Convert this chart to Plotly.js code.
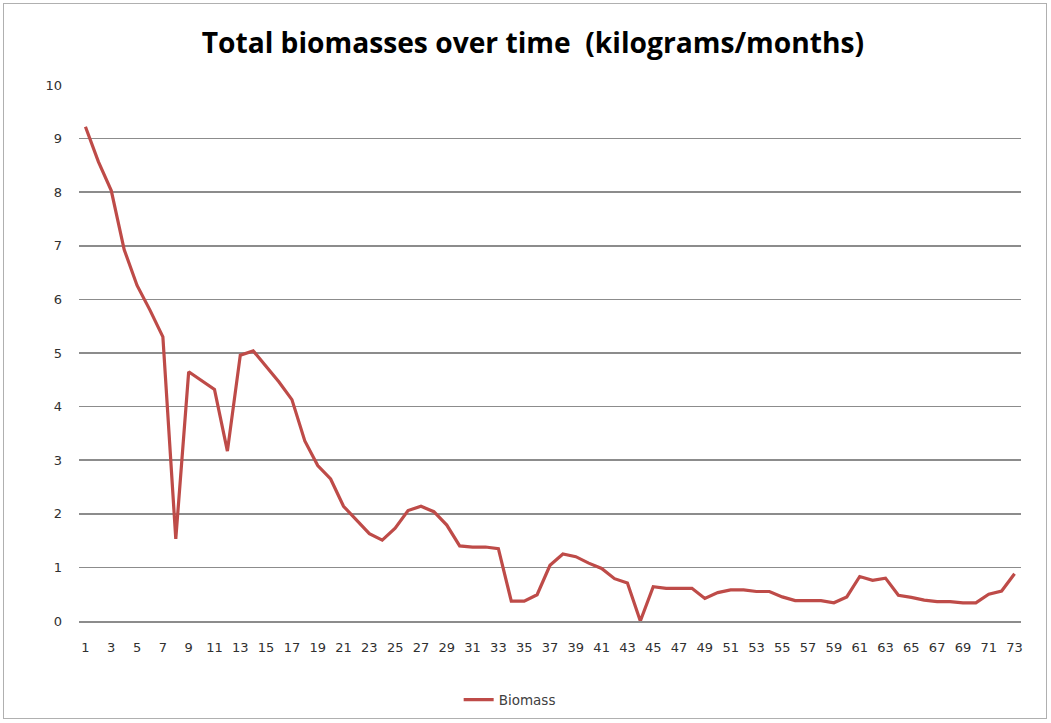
<!DOCTYPE html>
<html>
<head>
<meta charset="utf-8">
<script src="https://cdn.plot.ly/plotly-3.0.1.min.js"></script>
<style>
html,body{margin:0;padding:0;background:#fff;}
#frame{position:absolute;left:3px;top:3px;width:1044px;height:716px;border:1px solid #b0b0b0;box-sizing:border-box;}
#chart{position:absolute;left:0;top:0;width:1051px;height:723px;}
</style>
</head>
<body>
<div id="frame"></div>
<div id="chart"></div>
<script>
const months = Array.from({length: 73}, (_, i) => i + 1);
const biomass = [
  9.22, 8.57, 8.03, 6.93, 6.26, 5.80, 5.30, 1.53, 4.65, 4.49,
  4.32, 3.17, 4.96, 5.04, 4.76, 4.46, 4.13, 3.36, 2.90, 2.65,
  2.14, 1.88, 1.63, 1.51, 1.73, 2.06, 2.14, 2.04, 1.79, 1.40,
  1.38, 1.38, 1.35, 0.37, 0.37, 0.49, 1.04, 1.25, 1.20, 1.08,
  0.98, 0.79, 0.71, 0.00, 0.64, 0.61, 0.61, 0.61, 0.42, 0.53,
  0.58, 0.58, 0.55, 0.55, 0.45, 0.38, 0.38, 0.38, 0.34, 0.45,
  0.83, 0.76, 0.80, 0.48, 0.44, 0.39, 0.36, 0.36, 0.34, 0.34,
  0.50, 0.56, 0.88
];
const xTickVals = months.filter(m => m % 2 === 1);
const xTickText = xTickVals.map(String);
const yTickVals = [0,1,2,3,4,5,6,7,8,9,10];

const trace = {
  x: months, y: biomass, type: 'scatter', mode: 'lines', name: 'Biomass',
  line: {color: '#BE4B48', width: 3.2}
};
const layout = {
  width: 1051, height: 723,
  paper_bgcolor: 'rgba(0,0,0,0)', plot_bgcolor: 'rgba(0,0,0,0)',
  margin: {l: 79, r: 30, t: 85, b: 102, autoexpand: false},
  title: {
    text: '<b>Total biomasses over time  (kilograms/months)</b>',
    font: {family: '"Open Sans", sans-serif', size: 28.2, color: '#000'},
    x: 0.507, xanchor: 'center', y: 0.94, yanchor: 'middle'
  },
  showlegend: true,
  legend: {
    orientation: 'h', xref: 'container', yref: 'container',
    x: 0.4364, xanchor: 'left', y: 0.032, yanchor: 'middle',
    font: {family: '"DejaVu Sans", sans-serif', size: 13.5, color: '#404040'}
  },
  xaxis: {
    range: [0.5, 73.5], tickmode: 'array', tickvals: xTickVals, ticktext: xTickText,
    showgrid: false, zeroline: false, showline: true, linecolor: '#8c8c8c', linewidth: 1.5,
    ticks: '', ticklabelstandoff: 14,
    tickfont: {family: '"DejaVu Sans", sans-serif', size: 13, color: '#303030'}
  },
  yaxis: {
    range: [0, 10], tickmode: 'array', tickvals: yTickVals,
    showgrid: true, gridcolor: '#8c8c8c', gridwidth: 1.5, zeroline: false, showline: false,
    ticks: '', ticklabelstandoff: 16,
    tickfont: {family: '"DejaVu Sans", sans-serif', size: 13, color: '#303030'}
  }
};
Plotly.newPlot('chart', [trace], layout, {displayModeBar: false, staticPlot: true});
</script>
</body>
</html>
